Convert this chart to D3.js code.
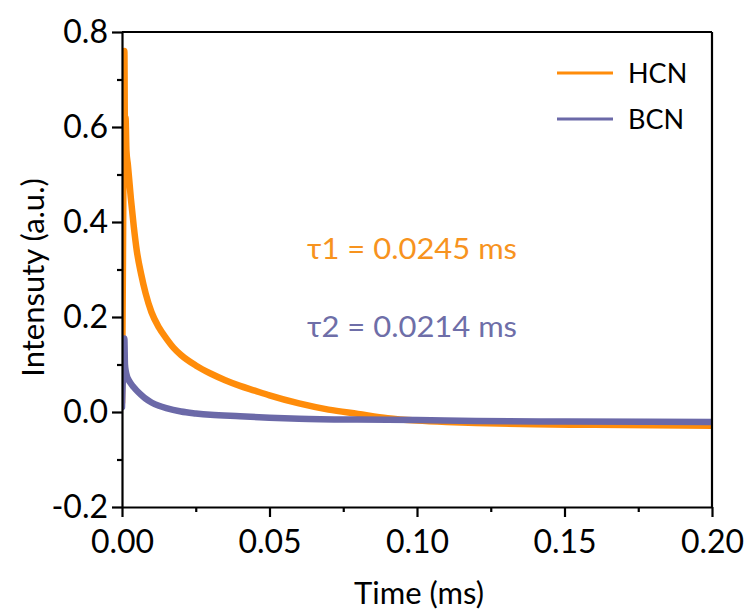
<!DOCTYPE html>
<html>
<head>
<meta charset="utf-8">
<script src="https://cdn.jsdelivr.net/npm/d3@7"></script>
<style>
  html, body { margin: 0; padding: 0; background: #fff; }
  svg { display: block; }
  text { font-family: Lato, "Open Sans", sans-serif; fill: #000; }
</style>
</head>
<body>
<svg id="chart" width="750" height="612"></svg>
<script>
// ---- data ----
const hcnTime = [0, 0.0003, 0.0006, 0.0008, 0.0010, 0.0012, 0.0015, 0.002, 0.003, 0.004, 0.005, 0.0065, 0.008, 0.010, 0.0125, 0.015, 0.0175, 0.02, 0.025, 0.03, 0.035, 0.04, 0.045, 0.05, 0.06, 0.07, 0.08, 0.09, 0.10, 0.11, 0.12, 0.14, 0.16, 0.18, 0.20];
const hcnValue = [0.02, 0.30, 0.62, 0.76, 0.58, 0.62, 0.55, 0.52, 0.45, 0.39, 0.34, 0.29, 0.25, 0.21, 0.178, 0.155, 0.135, 0.120, 0.098, 0.081, 0.067, 0.055, 0.045, 0.035, 0.018, 0.005, -0.004, -0.013, -0.018, -0.021, -0.023, -0.026, -0.027, -0.028, -0.029];

const bcnTime = [0, 0.0003, 0.0006, 0.0008, 0.0010, 0.0013, 0.0017, 0.0022, 0.003, 0.004, 0.005, 0.0065, 0.008, 0.010, 0.0125, 0.015, 0.02, 0.025, 0.03, 0.04, 0.05, 0.06, 0.08, 0.10, 0.12, 0.15, 0.20];
const bcnValue = [0.01, 0.07, 0.09, 0.155, 0.10, 0.085, 0.075, 0.068, 0.060, 0.052, 0.045, 0.036, 0.028, 0.020, 0.013, 0.008, 0.001, -0.003, -0.006, -0.009, -0.012, -0.014, -0.016, -0.017, -0.019, -0.020, -0.021];

const seriesNames = ["HCN", "BCN"];
const seriesColors = ["#ff8c0a", "#6b69a8"];
const xTicks = [0, 0.05, 0.10, 0.15, 0.20];
const xMinorTicks = [0.025, 0.075, 0.125, 0.175];
const yTicks = [-0.2, 0.0, 0.2, 0.4, 0.6, 0.8];
const yMinorTicks = [-0.1, 0.1, 0.3, 0.5, 0.7];
const annotations = ["τ1 = 0.0245 ms", "τ2 = 0.0214 ms"];
const annotationColors = ["#f7931e", "#6e6ea8"];

// ---- layout ----
const margin = { left: 122, top: 32, right: 38, bottom: 105 };
const W = 750, H = 612;
const iw = W - margin.left - margin.right;   // 590
const ih = H - margin.top - margin.bottom;   // 475

const svg = d3.select("#chart");
const g = svg.append("g").attr("transform", `translate(${margin.left},${margin.top})`);

const x = d3.scaleLinear().domain([0, 0.2]).range([0, iw]);
const y = d3.scaleLinear().domain([-0.2, 0.8]).range([ih, 0]);

svg.append("defs").append("clipPath").attr("id", "clip")
  .append("rect").attr("width", iw).attr("height", ih);

// ---- series ----
const series = [
  { name: seriesNames[0], color: seriesColors[0], data: hcnTime.map((t, i) => [t, hcnValue[i]]) },
  { name: seriesNames[1], color: seriesColors[1], data: bcnTime.map((t, i) => [t, bcnValue[i]]) }
];
const line = d3.line().x(d => x(d[0])).y(d => y(d[1])).curve(d3.curveMonotoneX);
const plot = g.append("g").attr("clip-path", "url(#clip)");
series.forEach(s => {
  plot.append("path").datum(s.data)
    .attr("d", line)
    .attr("fill", "none")
    .attr("stroke", s.color)
    .attr("stroke-width", 6.5)
    .attr("stroke-linejoin", "round")
    .attr("stroke-linecap", "round");
});

// ---- axes ----
const fmtX = d3.format(".2f");
const fmtY = v => d3.format(".1f")(v).replace("−", "-");
const axisStroke = 2.2;

const xAxis = g.append("g").attr("transform", `translate(0,${ih})`)
  .call(d3.axisBottom(x).tickValues(xTicks).tickFormat(fmtX).tickSize(10).tickPadding(13).tickSizeOuter(0));
const xMinor = g.append("g").attr("transform", `translate(0,${ih})`)
  .call(d3.axisBottom(x).tickValues(xMinorTicks).tickFormat("").tickSize(5).tickSizeOuter(0));
const yAxis = g.append("g")
  .call(d3.axisLeft(y).tickValues(yTicks).tickFormat(fmtY).tickSize(10).tickPadding(4).tickSizeOuter(0));
const yMinor = g.append("g")
  .call(d3.axisLeft(y).tickValues(yMinorTicks).tickFormat("").tickSize(5).tickSizeOuter(0));

[xAxis, xMinor, yAxis, yMinor].forEach(a => {
  a.selectAll("path.domain").attr("stroke", "#000").attr("stroke-width", axisStroke);
  a.selectAll(".tick line").attr("stroke", "#000").attr("stroke-width", axisStroke);
  a.selectAll(".tick text").attr("font-family", "Lato, sans-serif").attr("font-size", 32).attr("fill", "#000");
});
[xMinor, yMinor].forEach(a => a.select("path.domain").remove());

// top and right frame
g.append("line").attr("x1", 0).attr("x2", iw).attr("y1", 0).attr("y2", 0)
  .attr("stroke", "#000").attr("stroke-width", axisStroke);
g.append("line").attr("x1", iw).attr("x2", iw).attr("y1", 0).attr("y2", ih)
  .attr("stroke", "#000").attr("stroke-width", axisStroke);

// ---- axis titles ----
svg.append("text")
  .attr("x", margin.left + iw / 2 + 2).attr("y", 604)
  .attr("text-anchor", "middle").attr("font-size", 31)
  .text("Time (ms)");
svg.append("text")
  .attr("transform", `translate(44,${margin.top + y(0.3) + 8}) rotate(-90)`)
  .attr("text-anchor", "middle").attr("font-size", 31)
  .text("Intensuty (a.u.)");

// ---- legend ----
const legend = svg.append("g");
series.forEach((s, i) => {
  const ly = 73 + i * 46;
  legend.append("line").attr("x1", 557).attr("x2", 613).attr("y1", ly).attr("y2", ly)
    .attr("stroke", s.color).attr("stroke-width", 3);
  legend.append("text").attr("x", 628).attr("y", ly + 10)
    .attr("font-size", 27).text(s.name);
});

// ---- annotations ----
annotations.forEach((t, i) => {
  svg.append("text")
    .attr("x", 307).attr("y", 259 + i * 78)
    .attr("font-size", 29)
    .attr("textLength", 210)
    .attr("lengthAdjust", "spacingAndGlyphs")
    .style("fill", annotationColors[i])
    .text(t);
});
</script>
</body>
</html>
